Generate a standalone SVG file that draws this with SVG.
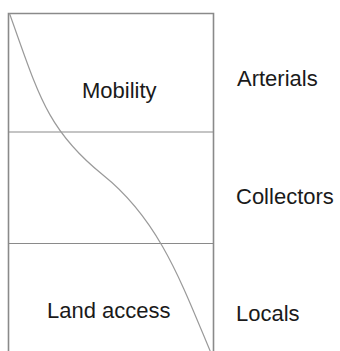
<svg xmlns="http://www.w3.org/2000/svg" width="340" height="351" viewBox="0 0 340 351">
<style>
.frame{fill:none;stroke:#8a8a8a;stroke-width:1.6}
.div{fill:none;stroke:#8a8a8a;stroke-width:1.2}
.curve{fill:none;stroke:#9a9a9a;stroke-width:1.2}
.lbl{font-family:"Liberation Sans",Arial,sans-serif;font-size:22px;fill:#1a1a1a}
</style>
<rect width="340" height="351" fill="#ffffff"/>
<g id="frame">
<path class="frame" d="M8.5,360 V13.5 H213.5 V360"/>
</g>
<g id="mobility">
<line class="div" x1="8.5" y1="132" x2="213.5" y2="132"/>
<text class="lbl" x="82" y="98">Mobility</text>
</g>
<g id="collectors-band">
<line class="div" x1="8.5" y1="243.5" x2="213.5" y2="243.5"/>
</g>
<g id="land-access">
<text class="lbl" x="47" y="318">Land access</text>
</g>
<g id="arterials"><text class="lbl" x="237" y="86">Arterials</text></g>
<g id="collectors"><text class="lbl" x="236" y="204">Collectors</text></g>
<g id="locals"><text class="lbl" x="236" y="320.5">Locals</text></g>
<g id="connectors">
<path class="curve" d="M9.5,13.5 C38.3,93.5 46.75,130 103,175 C159.25,220 181.6,283 211,353"/>
</g>
</svg>
